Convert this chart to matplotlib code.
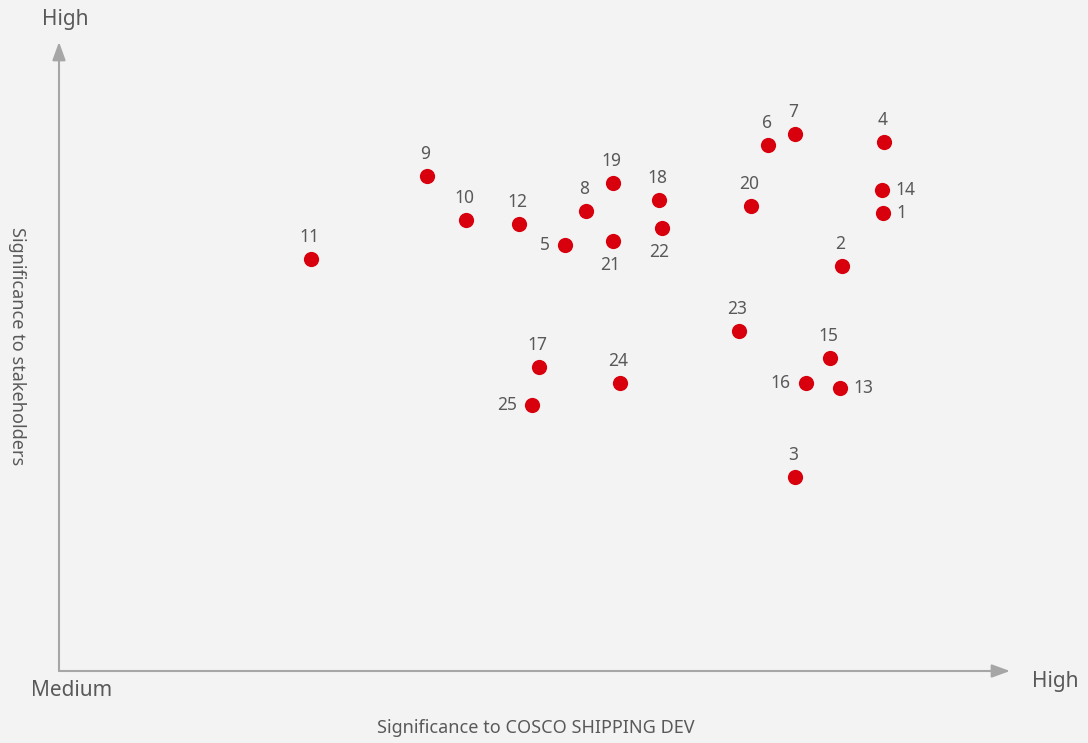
import matplotlib.pyplot as plt

plt.rcParams["font.family"] = ["Noto Sans", "DejaVu Sans"]

# Scores measured from the axis origin (x to the right, y upwards)
topics = ["1", "2", "3", "4", "5", "6", "7", "8", "9", "10", "11", "12", "13",
          "14", "15", "16", "17", "18", "19", "20", "21", "22", "23", "24", "25"]
company_score = [824, 783, 736, 825, 506, 709, 736, 527, 368, 407, 252, 460, 781,
                 823, 771, 747, 480, 600, 554, 692, 554, 603, 680, 561, 473]
stakeholder_score = [458, 405, 194, 529, 426, 526, 537, 460, 495, 451, 412, 447, 283,
                     481, 313, 288, 304, 471, 488, 465, 430, 443, 340, 288, 266]
label_side = ["right", "above", "above", "above", "left", "above", "above", "above",
              "above", "above", "above", "above", "right", "right", "above", "left",
              "above", "above", "above", "above", "below", "below", "above", "above",
              "left"]

BG = "#f2f3f2"
AXIS = "#a6a6a6"
TEXT = "#595959"
DOT = "#d9000d"

fig = plt.figure(figsize=(10.88, 7.43), dpi=100, facecolor=BG)
ax = fig.add_axes([0, 0, 1, 1])
ax.set_facecolor(BG)
ax.set_xlim(-59, 1029)
ax.set_ylim(-72, 671)
ax.axis("off")

arrow = dict(arrowstyle="-|>,head_length=1.1,head_width=0.4", color=AXIS, lw=1.5,
             shrinkA=0, shrinkB=0)
ax.annotate("", xy=(951, 0), xytext=(0, 0), arrowprops=arrow)
ax.annotate("", xy=(0, 629), xytext=(0, 0), arrowprops=arrow)

ax.scatter(company_score, stakeholder_score, s=120, color=DOT, zorder=3, linewidths=0)

offsets = {"above": (-1, 12, "center", "baseline"),
           "below": (-2, -11, "center", "top"),
           "right": (10, 0, "left", "center"),
           "left": (-11, 0, "right", "center")}
for name, cx, cy, side in zip(topics, company_score, stakeholder_score, label_side):
    dx, dy, ha, va = offsets[side]
    ax.annotate(name, (cx, cy), xytext=(dx, dy), textcoords="offset points",
                ha=ha, va=va, fontsize=12.5, color=TEXT)

ax.text(6, 651, "High", ha="center", va="center", fontsize=15, color=TEXT)
ax.text(13, -19, "Medium", ha="center", va="center", fontsize=15, color=TEXT)
ax.text(996, -10, "High", ha="center", va="center", fontsize=15, color=TEXT)
ax.text(477, -57, "Significance to COSCO SHIPPING DEV", ha="center", va="center",
        fontsize=13, color=TEXT)
ax.text(-42, 325, "Significance to stakeholders", ha="center", va="center",
        rotation=-90, fontsize=13, color=TEXT)

fig.savefig("out.png", dpi=100, facecolor=BG)
